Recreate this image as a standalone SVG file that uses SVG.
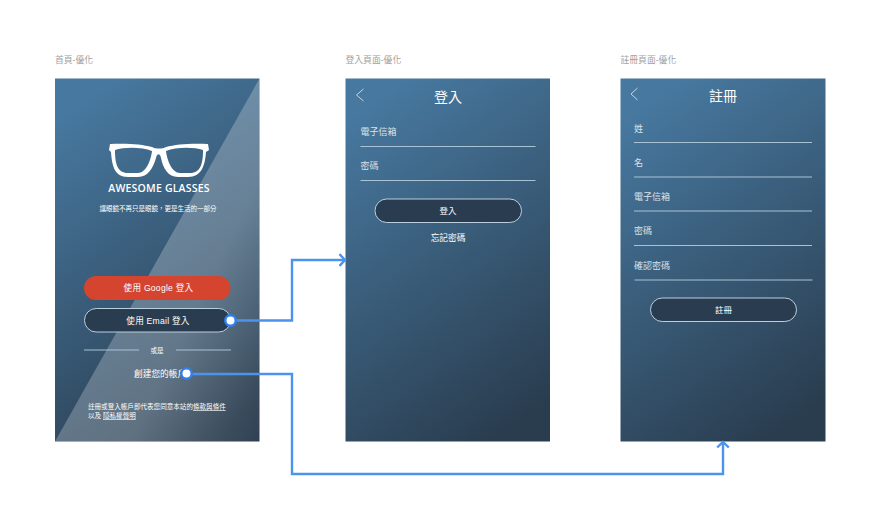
<svg xmlns="http://www.w3.org/2000/svg" width="880" height="529" viewBox="0 0 880 529">
<style>
text{font-family:"Liberation Sans","Noto Sans CJK TC",sans-serif;fill:#fff}
.cap{font-size:8.800px;fill:#a0a0a0}
.lab{font-size:9px;fill:#d9e2ea}
.title{font-size:14px;text-anchor:middle}
.c{text-anchor:middle}
.fl{stroke:#a9c3d6;stroke-width:1;fill:none}
.btn{fill:#2a3d50;stroke:#b9d0de;stroke-width:1}
.back{fill:none;stroke:#c5d5e2;stroke-width:1}
.conn{fill:none;stroke:#4b93ec;stroke-width:2.400}
.dot{fill:#fff;stroke:#2f80ed;stroke-width:2.400}
</style>
<defs>
<linearGradient id="g" x1=".3" y1="0" x2=".7" y2="1">
<stop offset="0" stop-color="#47789f"/><stop offset="1" stop-color="#2a3d4f"/>
</linearGradient>
<linearGradient id="sheen" x1=".2" y1=".3" x2="1" y2="1">
<stop offset="0" stop-color="#fff" stop-opacity=".24"/><stop offset=".55" stop-color="#fff" stop-opacity=".24"/><stop offset="1" stop-color="#fff" stop-opacity=".02"/>
</linearGradient>
<marker id="ah" markerWidth="12" markerHeight="14" refX="7" refY="7" orient="auto" markerUnits="userSpaceOnUse" viewBox="0 0 12 14">
<path d="M1.500 1.200L7 7L1.500 12.800" fill="none" stroke="#4b93ec" stroke-width="2.400"/>
</marker>
</defs>
<rect width="880" height="529" fill="#fff"/>
<g id="home">
<text class="cap" x="55" y="63">首頁-優化</text>
<rect x="55" y="78.500" width="204.500" height="363" fill="url(#g)"/>
<polygon points="259.500,78.500 259.500,441.500 55,441.500" fill="url(#sheen)"/>
<path fill-rule="evenodd" fill="#fff" d="M110 144C125 143 142 144 152 147C156 149 162 149 166 147C176 144 193 143 208 144L209 150L206 152C205 165 202 177 188 177L178 177C168 177 163 168 161 158C160 153 157 153 156 158C153 168 148 177 138 177L128 177C114 177 112 165 111 152L109 150Z M115 150C115 163 117 173 128 173L138 173C146 173 151 160 152 151C142 147 124 147 115 150Z M203 150C203 163 201 173 190 173L180 173C172 173 167 160 166 151C176 147 194 147 203 150Z"/>
<text x="159" y="192" class="c" font-size="10.500" font-weight="600" style="font-family:'Open Sans',sans-serif" letter-spacing=".2">AWESOME GLASSES</text>
<text x="158" y="211" class="c" font-size="6.500" fill="#dfe7ee">讓眼鏡不再只是眼鏡，更是生活的一部分</text>
<rect x="84" y="276" width="146.500" height="24" rx="12" fill="#d4442f"/>
<text x="158.500" y="291" class="c" font-size="8.600" letter-spacing=".25">使用 Google 登入</text>
<rect x="84.500" y="308.500" width="146" height="23.500" rx="11.700" class="btn"/>
<text x="158" y="324" class="c" font-size="8.600" letter-spacing=".25">使用 Email 登入</text>
<path d="M84 350H139M176 350H231" class="fl"/>
<text x="157" y="353" class="c" font-size="6.500">或是</text>
<text x="134" y="377" font-size="8.700">創建您的帳戶</text>
<text x="88" y="409" font-size="6.570" fill="#e3e9ee">註冊或登入帳戶即代表您同意本站的<tspan text-decoration="underline">條款與條件</tspan></text>
<text x="88" y="418" font-size="6.570" fill="#e3e9ee">以及 <tspan text-decoration="underline">隱私權聲明</tspan></text>
</g>
<g id="login">
<text class="cap" x="345.500" y="63">登入頁面-優化</text>
<rect x="345.500" y="78.500" width="204.500" height="363" fill="url(#g)"/>
<path d="M363.500 89L356.500 95L363.500 101" class="back"/>
<text x="448" y="102" class="title">登入</text>
<text x="360.500" y="135" class="lab">電子信箱</text>
<path d="M360.500 146.500H535.500" class="fl"/>
<text x="360.500" y="169" class="lab">密碼</text>
<path d="M360.500 180.500H535.500" class="fl"/>
<rect x="375" y="199" width="146.500" height="23.500" rx="11.700" class="btn"/>
<text x="448" y="214" class="c" font-size="8.500">登入</text>
<text x="448" y="241" class="c" font-size="8.700">忘記密碼</text>
</g>
<g id="signup">
<text class="cap" x="620.500" y="63">註冊頁面-優化</text>
<rect x="620.500" y="78.500" width="205" height="363" fill="url(#g)"/>
<path d="M637.500 88L631 94L637.500 100" class="back"/>
<text x="723" y="101" class="title">註冊</text>
<text x="634" y="131.500" class="lab">姓</text>
<path d="M634 142.500H812" class="fl"/>
<text x="634" y="166" class="lab">名</text>
<path d="M634 177H812" class="fl" stroke-width="1.200"/>
<text x="634" y="200" class="lab">電子信箱</text>
<path d="M634 211H812" class="fl"/>
<text x="634" y="234" class="lab">密碼</text>
<path d="M634 245.500H812" class="fl"/>
<text x="634" y="269" class="lab">確認密碼</text>
<path d="M634.500 280H812.500" class="fl"/>
<rect x="650.500" y="298" width="146" height="23.500" rx="11.700" class="btn"/>
<text x="723.500" y="313" class="c" font-size="8.500">註冊</text>
</g>
<g id="connectors">
<path d="M230 320.500H292V260H345" class="conn" marker-end="url(#ah)"/>
<path d="M186 374H292V474H723V442" class="conn" marker-end="url(#ah)"/>
<circle cx="230.500" cy="320.500" r="5.200" class="dot"/>
<circle cx="186.500" cy="373.500" r="5.200" class="dot"/>
</g>
</svg>
